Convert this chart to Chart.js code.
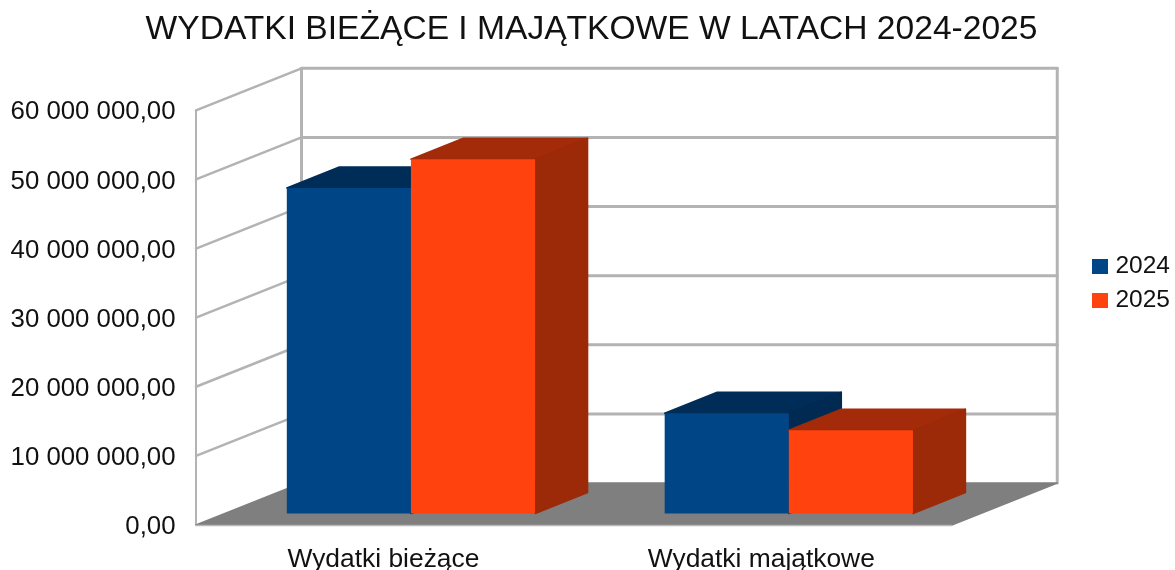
<!DOCTYPE html>
<html lang="pl">
<head>
<meta charset="utf-8">
<title>Wydatki</title>
<style>
html,body{margin:0;padding:0;background:#fff;overflow:hidden}
canvas{display:block;filter:blur(0.6px)}
</style>
<script src="https://cdn.jsdelivr.net/npm/chart.js@4"></script>
</head>
<body>
<canvas id="c" width="1175" height="570"></canvas>
<script>
const titleText = 'WYDATKI BIEŻĄCE I MAJĄTKOWE W LATACH 2024-2025';
const categories = ['Wydatki bieżące', 'Wydatki majątkowe'];
const seriesNames = ['2024', '2025'];
const values2024 = [47100000, 14500000];
const values2025 = [51250000, 12050000];
const frontColors = ['#004586', '#ff420e'];
const topColors = ['#002d57', '#a32b09'];
const sideColors = ['#002a52', '#9c2a08'];

const WALL = {dx: 105.5, dy: -42};
const BAR_SHIFT = {dx: 26, dy: -11.5};
const BAR_DEPTH = {dx: 52.5, dy: -21};
const GRID = '#b3b3b3';

function line(ctx, x1, y1, x2, y2, w) {
  ctx.lineWidth = w;
  ctx.beginPath(); ctx.moveTo(x1, y1); ctx.lineTo(x2, y2); ctx.stroke();
}
function poly(ctx, pts, color) {
  ctx.fillStyle = color; ctx.strokeStyle = color; ctx.lineWidth = 1.5; ctx.lineJoin = 'round';
  ctx.beginPath();
  pts.forEach((p, i) => i ? ctx.lineTo(p[0], p[1]) : ctx.moveTo(p[0], p[1]));
  ctx.closePath(); ctx.fill(); ctx.stroke();
}
function swatch(color) {
  const c = document.createElement('canvas');
  c.width = 16; c.height = 15;
  const g = c.getContext('2d');
  g.fillStyle = color; g.fillRect(0, 0, 16, 15);
  return c;
}

const box3d = {
  id: 'box3d',
  afterLayout(chart) {
    chart.legend.top -= 2;
    chart.legend.bottom -= 2;
  },
  beforeDatasetsDraw(chart) {
    const ctx = chart.ctx, a = chart.chartArea, y = chart.scales.y;
    const L = a.left, R = a.right, B = a.bottom, T = a.top;
    const bx = L + WALL.dx, brx = R + WALL.dx;
    ctx.save();
    ctx.strokeStyle = GRID; ctx.lineCap = 'round';
    y.ticks.forEach(t => {
      const p = y.getPixelForValue(t.value);
      if (t.value !== 0) line(ctx, L, p, bx, p + WALL.dy, 2.5);
      if (t.value !== 0) line(ctx, bx, p + WALL.dy, brx, p + WALL.dy, 3);
    });
    line(ctx, L, T, L, B, 2);
    line(ctx, bx, T + WALL.dy, bx, B + WALL.dy, 3);
    line(ctx, brx, T + WALL.dy, brx, B + WALL.dy, 3);
    poly(ctx, [[L, B], [bx, B + WALL.dy], [brx, B + WALL.dy], [R, B]], '#7f7f7f');
    ctx.strokeStyle = '#b8b8b8';
    line(ctx, L, B + 0.5, R, B + 0.5, 1.5);
    ctx.restore();

    ctx.save();
    ctx.translate(BAR_SHIFT.dx, BAR_SHIFT.dy);
    chart.data.datasets.forEach((ds, i) => {
      const meta = chart.getDatasetMeta(i);
      meta.data.forEach(el => {
        const l = el.x - el.width / 2, r = el.x + el.width / 2, t = el.y, b = el.base;
        const dx = BAR_DEPTH.dx, dy = BAR_DEPTH.dy;
        poly(ctx, [[l, t], [l + dx, t + dy], [r + dx, t + dy], [r, t]], topColors[i]);
        poly(ctx, [[r, t], [r + dx, t + dy], [r + dx, b + dy], [r, b]], sideColors[i]);
      });
      meta.controller.draw();
    });
    ctx.restore();
    return false;
  }
};

const FAMILY = '"Liberation Sans", Arial, sans-serif';

new Chart(document.getElementById('c'), {
  type: 'bar',
  data: {
    labels: categories,
    datasets: [
      {label: seriesNames[0], data: values2024, backgroundColor: frontColors[0], borderWidth: 0},
      {label: seriesNames[1], data: values2025, backgroundColor: frontColors[1], borderWidth: 0}
    ]
  },
  plugins: [box3d],
  options: {
    responsive: false,
    animation: false,
    layout: {autoPadding: false, padding: {left: 3, right: -5, top: 0, bottom: 0}},
    datasets: {bar: {categoryPercentage: 0.657, barPercentage: 1}},
    scales: {
      x: {
        grid: {display: false},
        border: {display: false},
        ticks: {color: '#111', font: {family: FAMILY, size: 26.4}, padding: 11, maxRotation: 0, labelOffset: -1.5},
        afterFit(s) { s.height = 45; }
      },
      y: {
        min: 0, max: 60000000,
        grid: {display: false},
        border: {display: false},
        ticks: {
          stepSize: 10000000, color: '#111', font: {family: FAMILY, size: 25.8}, padding: 12.5, labelOffset: 2,
          callback: v => v === 0 ? '0,00' : String(v).replace(/\B(?=(\d{3})+$)/g, ' ') + ',00'
        },
        afterFit(s) { s.width = 193; }
      },
      spacer: {
        position: 'right', min: 0, max: 1,
        grid: {display: false},
        border: {display: false},
        ticks: {display: false},
        afterFit(s) { s.width = 135; }
      }
    },
    plugins: {
      tooltip: {enabled: false},
      title: {
        display: true, text: titleText, color: '#111',
        font: {family: FAMILY, size: 33.6, weight: 'normal'},
        padding: {top: 10, bottom: 60}
      },
      legend: {
        position: 'right',
        labels: {
          usePointStyle: true, pointStyleWidth: 7, boxHeight: 15, color: '#111', padding: 9.5,
          font: {family: FAMILY, size: 24.5},
          generateLabels(chart) {
            return Chart.defaults.plugins.legend.labels.generateLabels(chart)
              .map((it, i) => Object.assign(it, {pointStyle: swatch(frontColors[i])}));
          }
        }
      }
    }
  }
});
</script>
</body>
</html>
